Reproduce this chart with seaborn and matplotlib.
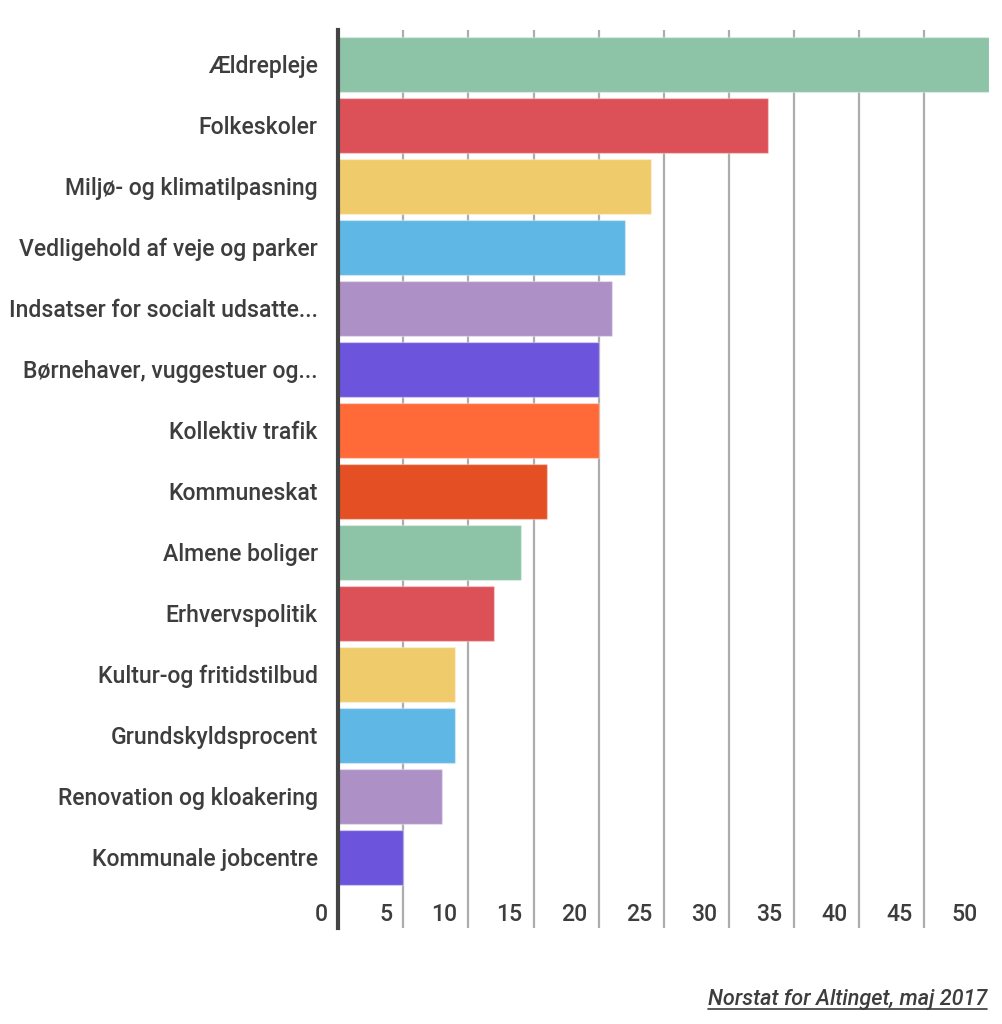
import matplotlib
matplotlib.use("Agg")
import matplotlib.pyplot as plt
import matplotlib.transforms as mtransforms
import seaborn as sns

categories = [
    "Ældrepleje", "Folkeskoler", "Miljø- og klimatilpasning",
    "Vedligehold af veje og parker", "Indsatser for socialt udsatte...",
    "Børnehaver, vuggestuer og...", "Kollektiv trafik", "Kommuneskat",
    "Almene boliger", "Erhvervspolitik", "Kultur-og fritidstilbud",
    "Grundskyldsprocent", "Renovation og kloakering", "Kommunale jobcentre",
]
values = [50, 33, 24, 22, 21, 20, 20, 16, 14, 12, 9, 9, 8, 5]
colors = [
    "#8DC3A6", "#DC5157", "#F0CB6B", "#5EB7E5", "#AD91C6", "#6C55DC",
    "#FF6A38", "#E54F24", "#8DC3A6", "#DC5157", "#F0CB6B", "#5EB7E5",
    "#AD91C6", "#6C55DC",
]
xticks = [0, 5, 10, 15, 20, 25, 30, 35, 40, 45, 50]
source = "Norstat for Altinget, maj 2017"

sns.set_theme(style="white")
plt.rcParams["font.family"] = ["Roboto", "DejaVu Sans"]
TEXT = "#3d3d3d"
FS = 16.6
WEIGHT = "medium"

W, H = 1003, 1024
fig = plt.figure(figsize=(W / 100, H / 100), dpi=100)
left, right, top, bottom = 338.5, 988.5, 30, 928
ax = fig.add_axes([left / W, 1 - bottom / H, (right - left) / W, (bottom - top) / H])

sns.barplot(x=values, y=categories, hue=categories, palette=colors,
            legend=False, orient="h", width=0.9, saturation=1,
            edgecolor=(1, 1, 1, 0.35), linewidth=1, ax=ax, zorder=3)

ax.set_xlim(0, 50)
ax.set_ylim(14.16, -0.56)
ax.set_xticks(xticks)
ax.set_xticklabels([])
ax.tick_params(axis="x", length=0)
ax.grid(axis="x", color="#adadad", linewidth=1.6, zorder=0)
ax.grid(axis="y", visible=False)
gl = ax.xaxis.get_gridlines()
gl[0].set_visible(False)
gl[-1].set_visible(False)

for s in ["top", "right", "bottom"]:
    ax.spines[s].set_visible(False)
ax.spines["left"].set_color("#444444")
ax.spines["left"].set_linewidth(3)
ax.spines["left"].set_zorder(5)

ax.set_xlabel("")
ax.set_ylabel("")
ax.tick_params(axis="y", length=0, pad=15, labelsize=FS, labelcolor=TEXT)
for lab in ax.get_yticklabels():
    lab.set_fontweight(WEIGHT)

# x tick labels inside the plot area, right-aligned just left of gridline
trans = mtransforms.blended_transform_factory(ax.transData, ax.transAxes)
off = mtransforms.ScaledTranslation(-11 / 100, 0, fig.dpi_scale_trans)
for v in xticks:
    ax.text(v, (bottom - 921) / (bottom - top), str(v), transform=trans + off,
            ha="right", va="baseline", fontsize=FS, fontweight=WEIGHT, color=TEXT)

fig.text(987.5 / W, 1 - 1005 / H, source, ha="right", va="baseline",
         fontsize=15.6, style="italic", fontweight=WEIGHT, color=TEXT)
# underline
fig.canvas.draw()
t = fig.texts[-1]
bb = t.get_window_extent()
fig.add_artist(plt.Line2D([bb.x0 / W, bb.x1 / W],
                          [(H - 1009) / H, (H - 1009) / H],
                          color=TEXT, linewidth=1.2))

fig.savefig("out.png", dpi=100, facecolor="white")
